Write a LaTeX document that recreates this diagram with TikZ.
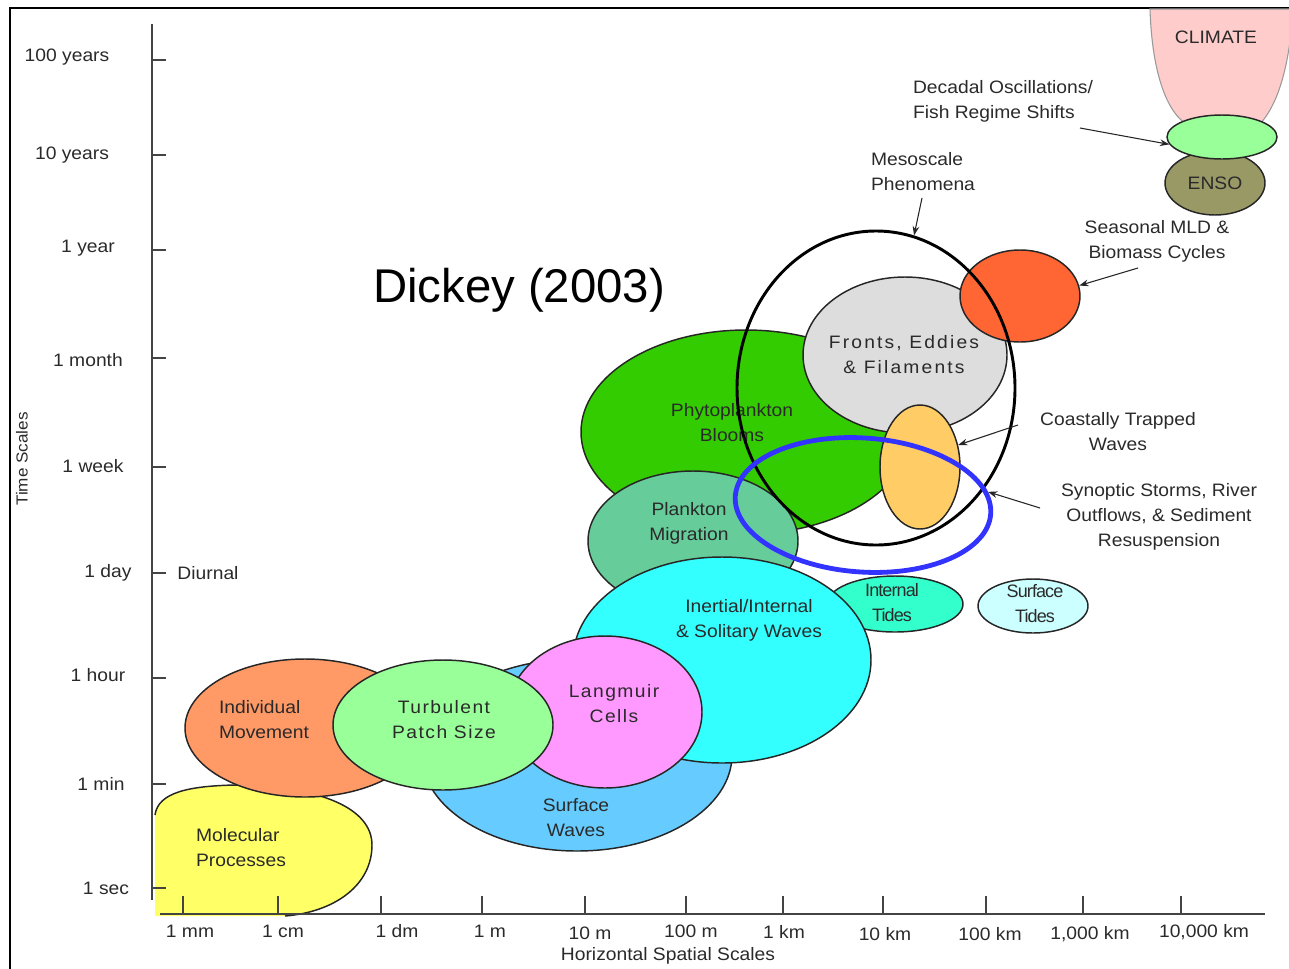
\documentclass[tikz,border=0pt]{standalone}
\usepackage{fontspec}
\setmainfont{Liberation Sans}[FakeStretch=1.07]
\newfontfamily\spcA{Liberation Sans}[FakeStretch=1.07,LetterSpace=8]
\newfontfamily\spcB{Liberation Sans}[FakeStretch=1.07,LetterSpace=12]
\newfontfamily\cnd{Liberation Sans}[LetterSpace=-5]
\newfontfamily\dk{Liberation Sans}
\usetikzlibrary{shapes.geometric,arrows.meta}
\definecolor{cYel}{HTML}{FFFF66}
\definecolor{cInd}{HTML}{FF9966}
\definecolor{cTur}{HTML}{99FF99}
\definecolor{cLan}{HTML}{FF99FF}
\definecolor{cSfw}{HTML}{66CCFF}
\definecolor{cIne}{HTML}{33FFFF}
\definecolor{cPlm}{HTML}{66CC99}
\definecolor{cPhy}{HTML}{33CC00}
\definecolor{cFro}{HTML}{DDDDDD}
\definecolor{cCtw}{HTML}{FFCC66}
\definecolor{cSea}{HTML}{FF6633}
\definecolor{cItd}{HTML}{33FFCC}
\definecolor{cStd}{HTML}{CCFFFF}
\definecolor{cCli}{HTML}{FFCCCC}
\definecolor{cDec}{HTML}{99FF99}
\definecolor{cEns}{HTML}{999966}
\definecolor{cBlu}{HTML}{3333FF}
\definecolor{cTxt}{HTML}{2A2A2A}
\definecolor{cAx}{HTML}{444444}
\begin{document}
\begin{tikzpicture}[x=0.75pt,y=-0.75pt,
  blob/.style={ellipse, draw=black!85, line width=1.1pt, inner sep=0pt},
  E/.style n args={2}{minimum width=#1*1.5pt, minimum height=#2*1.5pt},
  lbl/.style={text=cTxt, align=center, inner sep=0pt, font=\fontsize{13.5}{18.75}\selectfont},
  lbll/.style={lbl, align=left},
  tick/.style={draw=cAx, line width=1.6pt},
  axl/.style={draw=cAx, line width=2.2pt},
  arr/.style={-{Stealth[length=7pt,width=5pt]}, line width=0.8pt, draw=black!85}]
\useasboundingbox (0,0) rectangle (1289,968);
\begin{scope}
\clip (0,0) rectangle (1289,968);
% frame
\draw[line width=1.8pt] (10,975) -- (10,8) -- (1295,8);
% climate
\filldraw[fill=cCli, draw=black!40, line width=0.8pt] (1150,9) .. controls (1152,75) and (1168,116) .. (1190,126) -- (1258,126) .. controls (1280,104) and (1290,60) .. (1293,9) -- cycle;
\end{scope}
\node[blob, fill=cEns, E={50}{32}] (enso) at (1215,183) {};
\node[blob, fill=cDec, E={55}{22}] (dec) at (1222,137) {};

% axes
\draw[axl] (152,24) -- (152,900);
% molecular processes
\fill[cYel] (155,916) -- (155,815) .. controls (158,792) and (190,786) .. (235,785) .. controls (320,786) and (372,808) .. (372,845) .. controls (372,885) and (335,912) .. (285,916) -- cycle;
\draw[black!85, line width=1.1pt] (155,815) .. controls (158,792) and (190,786) .. (235,785) .. controls (320,786) and (372,808) .. (372,845) .. controls (372,885) and (335,912) .. (285,916);
\draw[axl] (160,914) -- (1265,914);
\foreach \y in {60,155,250,358,467,573,678,784,888} \draw[tick] (152,\y) -- (166,\y);
\foreach \x in {183,278,381,482,585,686,783,883,986,1083,1181} \draw[tick] (\x,914) -- (\x,896);

% ellipses
\node[blob, fill=cInd, E={120}{69}] (ind) at (305,728) {};
\node[blob, fill=cSfw, E={155}{96}] (sfw) at (577,755) {};
\node[blob, fill=cPhy, E={165}{102}] (phy) at (746,432) {};
\node[blob, fill=cPlm, E={105}{70}] (plm) at (693,541) {};
\node[blob, fill=cItd, E={68}{28}] (itd) at (895,604) {};
\node[blob, fill=cStd, E={55}{27}] (std) at (1033,606) {};
\node[blob, fill=cIne, E={149}{103}] (ine) at (722,660) {};
\node[blob, fill=cLan, E={97}{76}] (lan) at (605,712) {};
\node[blob, fill=cTur, E={110}{65}] (tur) at (443,725) {};
\node[blob, fill=cFro, E={102}{78}] (fro) at (905,355) {};
\node[blob, fill=cSea, E={60}{46}] (sea) at (1020,296) {};
\node[blob, fill=cCtw, E={40}{62}] (ctw) at (920,467) {};

% axis labels
\node[lbl] (t1) at (67,57) {100 years};
\node[lbl] (t2) at (72,155) {10 years};
\node[lbl] (t3) at (88,248) {1 year};
\node[lbl] (t4) at (88,360) {1 month};
\node[lbl] (t5) at (93,466) {1 week};
\node[lbl] (t6) at (108,573) {1 day};
\node[lbl] (t7) at (98,675) {1 hour};
\node[lbl] (t8) at (101,784) {1 min};
\node[lbl] (t9) at (106,888) {1 sec};
\node[lbl] (diu) at (208,573) {Diurnal};
\node[lbl, rotate=90, font=\fontsize{12}{14}\selectfont] (tsc) at (22,459) {Time Scales};
\node[lbl] (x1) at (190,931) {1 mm};
\node[lbl] (x2) at (283,931) {1 cm};
\node[lbl] (x3) at (397,931) {1 dm};
\node[lbl] (x4) at (490,931) {1 m};
\node[lbl] (x5) at (590,933) {10 m};
\node[lbl] (x6) at (691,931) {100 m};
\node[lbl] (x7) at (784,932) {1 km};
\node[lbl] (x8) at (885,934) {10 km};
\node[lbl] (x9) at (990,934) {100 km};
\node[lbl] (x10) at (1090,934) {1,000 km};
\node[lbl] (x11) at (1204,932) {10,000 km};
\node[lbl] (hss) at (668,956) {Horizontal Spatial Scales};

% ellipse texts
\node[lbll] (tmol) at (241,848) {Molecular\\Processes};
\node[lbll] (tind) at (264,720) {Individual\\Movement};
\node[lbl, font=\spcA\fontsize{13.5}{18.75}\selectfont] (ttur) at (444,720) {Turbulent\\Patch Size};
\node[lbl, font=\spcA\fontsize{13.5}{18.75}\selectfont] (tlan) at (614,704) {Langmuir\\Cells};
\node[lbl] (tsfw) at (576,818) {Surface\\Waves};
\node[lbl] (tine) at (749,620) {Inertial/Internal\\\& Solitary Waves};
\node[lbl] (tplm) at (689,523) {Plankton\\Migration};
\node[lbl] (tphy) at (732,423) {Phytoplankton\\Blooms};
\node[lbl, font=\spcB\fontsize{13.5}{18.75}\selectfont] (tfro) at (904,355) {Fronts, Eddies\\\& Filaments};
\node[lbl, font=\cnd\fontsize{13.5}{18.75}\selectfont] (titd) at (892,603) {Internal\\Tides};
\node[lbl, font=\cnd\fontsize{13.5}{18.75}\selectfont] (tstd) at (1035,604) {Surface\\Tides};
\node[lbl] (tcli) at (1216,37) {CLIMATE};
\node[lbl] (tens) at (1215,183) {ENSO};
\node[lbll] (tdec) at (1003,101) {Decadal Oscillations/\\Fish Regime Shifts};
\node[lbll] (tmes) at (923,172) {Mesoscale\\Phenomena};
\node[lbl] (tsea) at (1157,241) {Seasonal MLD \&\\Biomass Cycles};
\node[lbl] (tctw) at (1118,432) {Coastally Trapped\\Waves};
\node[lbl] (tsyn) at (1159,517) {Synoptic Storms, River\\Outflows, \& Sediment\\Resuspension};
\node[inner sep=0pt, font=\dk\fontsize{35.5}{40}\selectfont] (dick) at (519,290) {Dickey (2003)};

% mesoscale circle and synoptic ellipse
\node[ellipse, draw=black, line width=2.2pt, inner sep=0pt, E={139}{157}] (mes) at (876,388) {};
\node[ellipse, draw=cBlu, line width=3.6pt, inner sep=0pt, E={128}{67}, rotate=-4] (syn) at (863,505) {};

% arrows
\coordinate (adec) at (1080,128);
\coordinate (ames) at (922,198);
\coordinate (asea) at (1138,268);
\coordinate (actw) at (1018,425);
\coordinate (asyn) at (1040,508);
\draw[arr] (adec) -- (dec.188);
\draw[arr] (ames) -- (mes.76);
\draw[arr] (asea) -- (sea.10);
\draw[arr] (actw) -- (ctw.30);
\draw[arr] (asyn) -- (syn.10);
\end{tikzpicture}
\end{document}
